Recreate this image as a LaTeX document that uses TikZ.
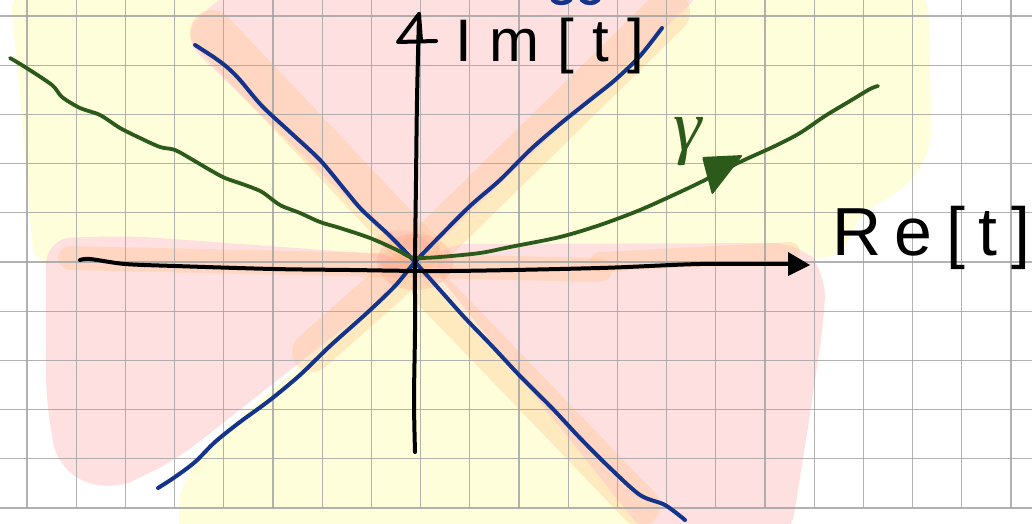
\documentclass[tikz,border=0pt]{standalone}
\usepackage{fontspec}
\setmainfont{Liberation Sans}
\newfontfamily\gamfont{Liberation Serif}
\definecolor{ylw}{RGB}{255,254,218}
\definecolor{pnk}{RGB}{255,224,224}
\definecolor{orng}{RGB}{255,196,140}
\definecolor{redd}{RGB}{255,150,130}
\definecolor{gridc}{RGB}{165,165,165}
\definecolor{blu}{RGB}{20,52,140}
\definecolor{grn}{RGB}{44,90,26}
\tikzset{
  gridline/.style={draw=gridc, line width=1.3pt, opacity=0.85},
  hilite/.style={draw=orng, line width=44pt, line cap=round, opacity=0.35},
  bluecurve/.style={draw=blu, line width=4pt, line cap=round, line join=round},
  greencurve/.style={draw=grn, line width=3.8pt, line cap=round, line join=round},
  axisline/.style={draw=black, line width=4pt, line cap=round, line join=round},
  biglabel/.style={text=black, inner sep=0pt}
}
\begin{document}
\begin{tikzpicture}[x=1pt,y=-1pt]
\useasboundingbox (0,0) rectangle (1032,524);
\fill[white] (0,0) rectangle (1032,524);
% yellow regions
\fill[ylw, rounded corners=22pt] (10,-10) -- (250,-10) -- (412,262) -- (34,266) -- (22,120) -- cycle;
\fill[ylw, rounded corners=22pt] (560,-10) -- (928,-10) -- (932,150) -- (905,190) -- (860,212) -- (842,258) -- (420,262) -- cycle;
\fill[ylw, rounded corners=22pt] (415,268) -- (690,540) -- (178,540) -- (180,482) -- (232,424) -- cycle;
% pink regions
\fill[pnk, rounded corners=22pt] (237,-10) -- (705,-10) -- (428,252) -- (402,252) -- (182,38) -- (205,8) -- cycle;
\fill[pnk, rounded corners=26pt] (46,238) -- (132,236) -- (405,256) -- (412,274) -- (176,460) -- (110,492) -- (58,470) -- (46,400) -- cycle;
\fill[pnk, rounded corners=26pt] (428,262) -- (440,244) -- (800,243) -- (826,272) -- (824,320) -- (806,440) -- (790,540) -- (650,540) -- cycle;
% orange highlights
\draw[hilite] (212,32) -- (418,250);
\draw[hilite] (668,12) -- (420,255);
\draw[hilite, line width=40pt] (432,290) -- (640,506);
\draw[hilite, line width=40pt] (398,276) -- (312,352);
\draw[hilite, line width=24pt] (70,258) -- (600,270);
\draw[hilite, line width=20pt] (600,262) -- (790,252);
\fill[redd, opacity=0.25] (415,262) ellipse (38pt and 28pt);
\fill[redd, opacity=0.18] (400,250) ellipse (30pt and 20pt);
% grid
\foreach \i in {0,...,20} \draw[gridline] ({27+49.2*\i},0) -- ({27+49.2*\i},508);
\foreach \j in {0,...,10} \draw[gridline] (0,{16+49.2*\j}) -- (1032,{16+49.2*\j});
% blue curves
\draw[bluecurve] plot[smooth, tension=0.5] coordinates {(195,45) (215,58) (228,68) (240,80) (262,106) (290,132) (320,160) (345,190) (362,210) (390,236) (415,262) (440,290) (465,318) (492,346) (520,376) (552,408) (580,438) (610,468) (640,495) (665,505) (685,520)};
\draw[bluecurve] plot[smooth, tension=0.5] coordinates {(158,488) (175,477) (195,462) (215,442) (240,422) (270,400) (300,375) (330,346) (368,312) (395,286) (415,262) (440,236) (470,206) (500,180) (530,150) (560,124) (590,100) (615,80) (640,56) (662,28)};
\draw[bluecurve, line width=4.5pt] (553,0) .. controls (556,4) and (566,4) .. (570,0);
\draw[bluecurve, line width=4.5pt] (582,0) .. controls (586,4) and (594,4) .. (598,0);
% green curve
\draw[greencurve] plot[smooth, tension=0.5] coordinates {(10,58) (25,67) (52,85) (62,97) (80,108) (100,115) (120,128) (140,138) (160,147) (175,150) (193,160) (210,170) (225,178) (245,185) (262,192) (280,205) (300,213) (320,222) (340,228) (370,238) (397,250) (410,257) (420,258) (440,257) (480,253) (510,247) (560,237) (600,225) (640,210) (680,192) (705,180) (740,162) (775,146) (800,133) (825,116) (850,101) (870,89) (878,86)};
\fill[grn, rounded corners=2pt] (702,157) -- (743,155) -- (712,195) -- cycle;
\node[text=grn, font=\gamfont\fontsize{72}{72}\selectfont\itshape, inner sep=0pt] (gam) at (688,142) {γ};
% axes
\draw[axisline] plot[smooth, tension=0.5] coordinates {(80,260) (90,259) (125,264) (175,266) (273,269) (350,270) (450,271) (600,268) (700,264) (795,264)};
\fill[black] (788,252) -- (810,265) -- (788,276) -- cycle;
\draw[axisline] plot[smooth, tension=0.5] coordinates {(415,452) (414,400) (415,330) (415,262) (416,180) (417,100) (419,15)};
\draw[axisline] (419,14) -- (398,42) -- (436,41);
\draw[axisline] (419,14) -- (421,41);
% labels
\node[biglabel, anchor=base west, font=\fontsize{60}{60}\selectfont\addfontfeature{LetterSpace=30}] (im) at (455,62) {Im[t]};
\node[biglabel, anchor=base west, font=\fontsize{68}{68}\selectfont\addfontfeature{LetterSpace=20}] (re) at (832,255) {Re[t]};
\end{tikzpicture}
\end{document}
